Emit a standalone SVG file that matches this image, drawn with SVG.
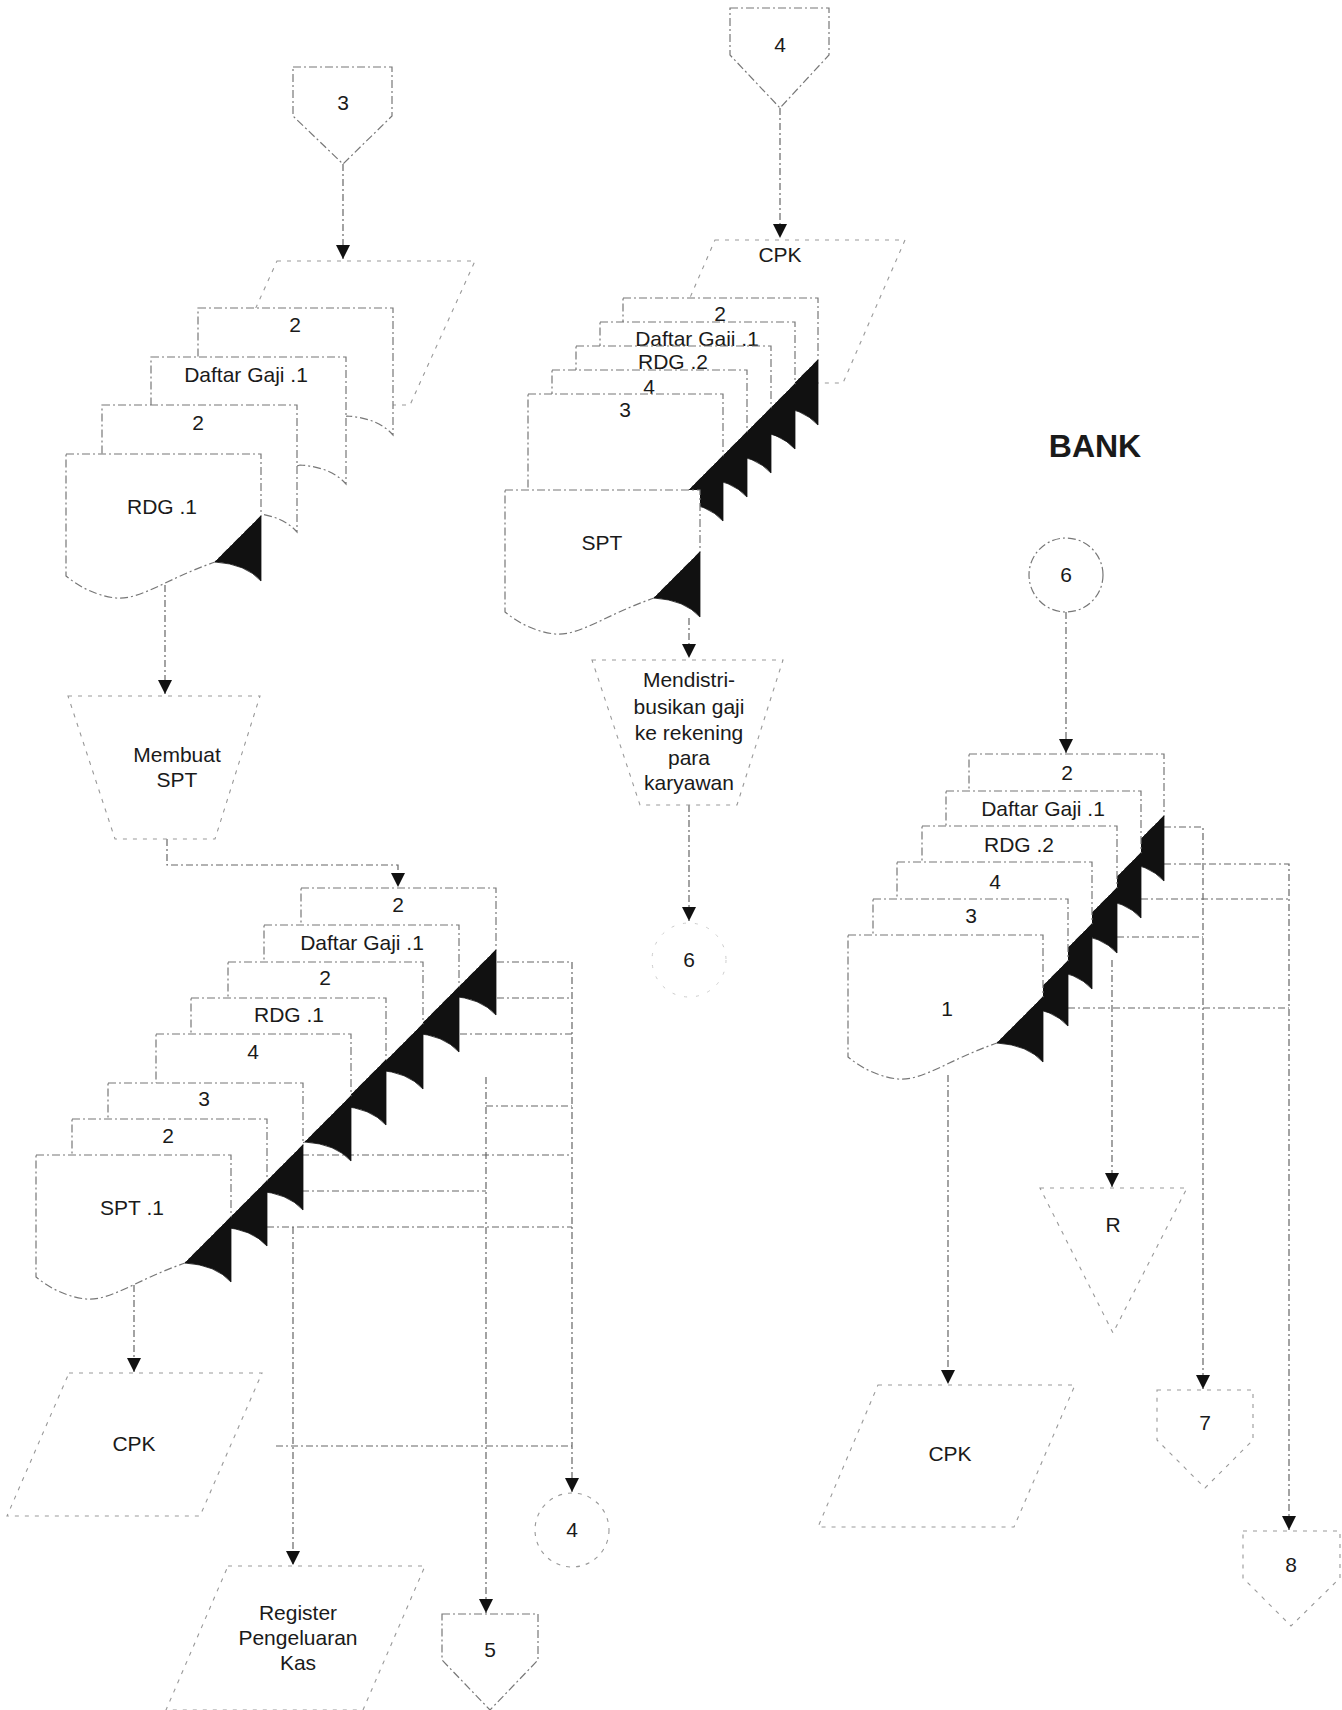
<svg xmlns="http://www.w3.org/2000/svg" width="1342" height="1710" viewBox="0 0 1342 1710">
<style>
.ln{fill:none;stroke:#666;stroke-width:1.2;stroke-dasharray:7 3 2 3}
.sh{fill:#fff;stroke:#777;stroke-width:1.2;stroke-dasharray:8 3 2 3}
.fa{fill:#fff;stroke:#999;stroke-width:1.1;stroke-dasharray:4 6}
.vf{fill:none;stroke:#ccc;stroke-width:1;stroke-dasharray:3 9}
.curl{fill:#111;stroke:#111;stroke-width:0.8}
.t{font-family:"Liberation Sans",Arial,sans-serif;font-size:21px;fill:#1a1a1a;text-anchor:middle}
.b{font-family:"Liberation Sans",Arial,sans-serif;font-size:32px;font-weight:bold;fill:#1a1a1a;text-anchor:middle}
</style>
<defs>
<marker id="ah" viewBox="0 0 14 14" refX="14" refY="7" markerWidth="14" markerHeight="14" markerUnits="userSpaceOnUse" orient="auto">
<path d="M0,0 L14,7 L0,14 Z" fill="#111"/>
</marker>
<g id="docB">
<path class="sh" d="M0,0 H195 V62 L149,108 C100,125 75,146 50,144 C30,142 12,132 0,122 Z"/>
<path class="curl" d="M195,62 L149,108 Q180,110 195,127 Z"/>
</g>
<g id="docP">
<path class="sh" d="M0,0 H195 V127 Q180,110 149,108 C100,125 75,146 50,144 C30,142 12,132 0,122 Z"/>
</g>
</defs>
<rect width="1342" height="1710" fill="#fff"/>

<g id="connectors">
<path class="ln" d="M343,164 V259" marker-end="url(#ah)"/>
<path class="ln" d="M780,108 V238" marker-end="url(#ah)"/>
<path class="ln" d="M165,585 V694" marker-end="url(#ah)"/>
<path class="ln" d="M167,839 V865 H398 V887" marker-end="url(#ah)"/>
<path class="ln" d="M689,618 V658" marker-end="url(#ah)"/>
<path class="ln" d="M689,805 V921" marker-end="url(#ah)"/>
<path class="ln" d="M1066,612 V753" marker-end="url(#ah)"/>
<path class="ln" d="M134,1285 V1372" marker-end="url(#ah)"/>
<path class="ln" d="M497,962 H572 M497,998 H572 M460,1034 H572 M486,1106 H572 M302,1155 H572 M302,1191 H486 M267,1227 H572 M276,1446 H572"/>
<path class="ln" d="M572,962 V1492" marker-end="url(#ah)"/>
<path class="ln" d="M486,1077 V1613" marker-end="url(#ah)"/>
<path class="ln" d="M293,1227 V1565" marker-end="url(#ah)"/>
<path class="ln" d="M1164,827 H1203 V1389" marker-end="url(#ah)"/>
<path class="ln" d="M1164,864 H1289 V1530" marker-end="url(#ah)"/>
<path class="ln" d="M1141,899 H1289 M1117,937 H1203 M1068,1008 H1289"/>
<path class="ln" d="M1112,960 V1187" marker-end="url(#ah)"/>
<path class="ln" d="M948,1075 V1384" marker-end="url(#ah)"/>
</g>

<g id="n-conn3">
<polygon class="sh" points="293,67 392,67 392,116 343,164 293,116"/>
<text class="t" x="343" y="110">3</text>
</g>
<g id="n-conn4top">
<polygon class="sh" points="730,8 829,8 829,55 780,108 730,55"/>
<text class="t" x="780" y="52">4</text>
</g>

<g id="n-input-tl">
<polygon class="fa" points="277,261 475,261 410,405 212,405"/>
</g>
<g id="n-tl-2a"><use href="#docP" x="198" y="308"/><text class="t" x="295" y="332">2</text></g>
<g id="n-tl-dg"><use href="#docP" x="151" y="357"/><text class="t" x="246" y="382">Daftar Gaji .1</text></g>
<g id="n-tl-2b"><use href="#docP" x="102" y="405"/><text class="t" x="198" y="430">2</text></g>
<g id="n-tl-rdg"><use href="#docB" x="66" y="454"/><text class="t" x="162" y="514">RDG .1</text></g>

<g id="n-membuat">
<polygon class="fa" points="68,696 260,696 215,839 115,839"/>
<text class="t" x="177" y="762">Membuat</text>
<text class="t" x="177" y="787">SPT</text>
</g>

<g id="n-cpk-mid">
<polygon class="fa" points="715,240 905,240 843,383 653,383"/>
<text class="t" x="780" y="262">CPK</text>
</g>
<g id="n-m-2"><use href="#docB" x="623" y="298"/><text class="t" x="720" y="321">2</text></g>
<g id="n-m-dg"><use href="#docB" x="600" y="322"/><text class="t" x="697" y="346">Daftar Gaji .1</text></g>
<g id="n-m-rdg"><use href="#docB" x="576" y="346"/><text class="t" x="673" y="369">RDG .2</text></g>
<g id="n-m-4"><use href="#docB" x="552" y="370"/><text class="t" x="649" y="394">4</text></g>
<g id="n-m-3"><use href="#docB" x="528" y="394"/><text class="t" x="625" y="417">3</text></g>
<g id="n-m-spt"><use href="#docB" x="505" y="490"/><text class="t" x="602" y="550">SPT</text></g>

<g id="n-distribusi">
<polygon class="fa" points="592,660 783,660 737,805 640,805"/>
<text class="t" x="689" y="687">Mendistri-</text>
<text class="t" x="689" y="714">busikan gaji</text>
<text class="t" x="689" y="740">ke rekening</text>
<text class="t" x="689" y="765">para</text>
<text class="t" x="689" y="790">karyawan</text>
</g>
<g id="n-conn6mid">
<circle class="vf" cx="689" cy="960" r="37"/>
<text class="t" x="689" y="967">6</text>
</g>

<g id="n-b-2"><use href="#docB" x="301" y="888"/><text class="t" x="398" y="912">2</text></g>
<g id="n-b-dg"><use href="#docB" x="264" y="925"/><text class="t" x="362" y="950">Daftar Gaji .1</text></g>
<g id="n-b-2b"><use href="#docB" x="228" y="962"/><text class="t" x="325" y="985">2</text></g>
<g id="n-b-rdg"><use href="#docB" x="191" y="998"/><text class="t" x="289" y="1022">RDG .1</text></g>
<g id="n-b-4"><use href="#docB" x="156" y="1034"/><text class="t" x="253" y="1059">4</text></g>
<g id="n-b-3"><use href="#docB" x="108" y="1083"/><text class="t" x="204" y="1106">3</text></g>
<g id="n-b-2c"><use href="#docB" x="72" y="1119"/><text class="t" x="168" y="1143">2</text></g>
<g id="n-b-spt"><use href="#docB" x="36" y="1155"/><text class="t" x="132" y="1215">SPT .1</text></g>

<g id="n-cpk-left">
<polygon class="fa" points="69,1373 262,1373 200,1516 7,1516"/>
<text class="t" x="134" y="1451">CPK</text>
</g>
<g id="n-register">
<polygon class="fa" points="228,1566 425,1566 363,1710 166,1710"/>
<text class="t" x="298" y="1620">Register</text>
<text class="t" x="298" y="1645">Pengeluaran</text>
<text class="t" x="298" y="1670">Kas</text>
</g>
<g id="n-conn4b">
<circle class="fa" cx="572" cy="1530" r="37"/>
<text class="t" x="572" y="1537">4</text>
</g>
<g id="n-conn5">
<polygon class="sh" points="442,1614 538,1614 538,1660 490,1710 442,1660"/>
<text class="t" x="490" y="1657">5</text>
</g>

<g id="n-bank"><text class="b" x="1095" y="457">BANK</text></g>
<g id="n-conn6r">
<circle class="sh" cx="1066" cy="575" r="37"/>
<text class="t" x="1066" y="582">6</text>
</g>

<g id="n-r-2"><use href="#docB" x="969" y="754"/><text class="t" x="1067" y="780">2</text></g>
<g id="n-r-dg"><use href="#docB" x="946" y="791"/><text class="t" x="1043" y="816">Daftar Gaji .1</text></g>
<g id="n-r-rdg"><use href="#docB" x="922" y="826"/><text class="t" x="1019" y="852">RDG .2</text></g>
<g id="n-r-4"><use href="#docB" x="897" y="862"/><text class="t" x="995" y="889">4</text></g>
<g id="n-r-3"><use href="#docB" x="873" y="899"/><text class="t" x="971" y="923">3</text></g>
<g id="n-r-1"><use href="#docB" x="848" y="935"/><text class="t" x="947" y="1016">1</text></g>

<g id="n-arsip">
<polygon class="fa" points="1040,1188 1187,1188 1113,1333"/>
<text class="t" x="1113" y="1232">R</text>
</g>
<g id="n-cpk-right">
<polygon class="fa" points="878,1385 1075,1385 1014,1527 818,1527"/>
<text class="t" x="950" y="1461">CPK</text>
</g>
<g id="n-conn7">
<polygon class="fa" points="1157,1390 1253,1390 1253,1440 1205,1488 1157,1440"/>
<text class="t" x="1205" y="1430">7</text>
</g>
<g id="n-conn8">
<polygon class="fa" points="1243,1531 1340,1531 1340,1578 1291,1626 1243,1578"/>
<text class="t" x="1291" y="1572">8</text>
</g>
</svg>
